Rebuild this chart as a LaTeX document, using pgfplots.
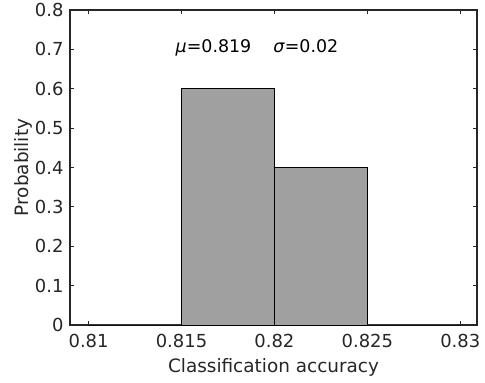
\documentclass[border=0pt]{standalone}
\usepackage{pgfplots}
\pgfplotsset{compat=1.18}
\usetikzlibrary{calc}
\usepackage{fontspec}
\setmainfont{DejaVu Sans}
\definecolor{axc}{RGB}{38,38,38}
\definecolor{barc}{RGB}{160,160,160}
\begin{document}
\begin{tikzpicture}
\begin{axis}[
  scale only axis,
  width=407bp, height=315bp,
  xmin=0.809, xmax=0.8309,
  ymin=0, ymax=0.8,
  xtick={0.81,0.815,0.82,0.825,0.83},
  xticklabels={0.81,0.815,0.82,0.825,0.83},
  ytick={0,0.1,0.2,0.3,0.4,0.5,0.6,0.7,0.8},
  yticklabels={0,0.1,0.2,0.3,0.4,0.5,0.6,0.7,0.8},
  tick align=inside, tick pos=both,
  major tick length=4bp,
  axis line style={axc, line width=1.3pt},
  every tick/.style={axc, line width=1pt},
  tick label style={font=\fontsize{18}{20}\selectfont, text=axc},
  xticklabel style={yshift=-6bp},
  yticklabel style={xshift=-3bp},
  label style={font=\fontsize{18.5}{21}\selectfont, text=axc},
  xlabel={Classification accuracy},
  ylabel={Probability},
  xlabel style={at={($(rel axis cs:0.5,0)+(0,-42bp)$)}, anchor=center},
  ylabel style={at={($(rel axis cs:0,0.5)+(-47bp,0)$)}, anchor=center},
  clip=false,
]
\addplot[ybar interval, fill=barc, draw=black, line width=0.6pt] coordinates {
  (0.810,0) (0.815,0.6) (0.820,0.4) (0.825,0) (0.830,0)
};
\node[anchor=west, font=\fontsize{17.5}{20}\selectfont, text=black] at (axis cs:0.8145,0.703)
  {\textit{μ}=0.819\hspace{22bp}\textit{σ}=0.02};
\coordinate (sw) at (rel axis cs:0,0);
\coordinate (ne) at (rel axis cs:1,1);
\end{axis}
\pgfresetboundingbox
\path ([shift={(-70bp,-58bp)}]sw) rectangle ([shift={(8bp,10bp)}]ne);
\end{tikzpicture}
\end{document}
